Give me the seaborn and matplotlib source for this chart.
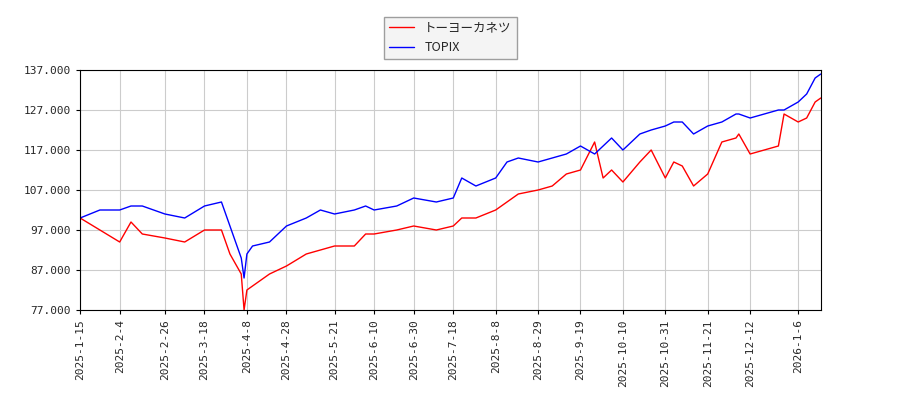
import numpy as np
import pandas as pd
import matplotlib
matplotlib.use("Agg")
import matplotlib.pyplot as plt
import seaborn as sns

dates = ["2025-01-15", "2025-01-24", "2025-02-04", "2025-02-10", "2025-02-14", "2025-02-26",
         "2025-03-07", "2025-03-18", "2025-03-26", "2025-03-31", "2025-04-04", "2025-04-07",
         "2025-04-08", "2025-04-10", "2025-04-18", "2025-04-28", "2025-05-07", "2025-05-14",
         "2025-05-21", "2025-05-30", "2025-06-05", "2025-06-10", "2025-06-20", "2025-06-30",
         "2025-07-10", "2025-07-18", "2025-07-23", "2025-07-30", "2025-08-08", "2025-08-14",
         "2025-08-20", "2025-08-29", "2025-09-05", "2025-09-12", "2025-09-19", "2025-09-26",
         "2025-10-01", "2025-10-06", "2025-10-10", "2025-10-20", "2025-10-24", "2025-10-31",
         "2025-11-05", "2025-11-10", "2025-11-14", "2025-11-21", "2025-11-28", "2025-12-05",
         "2025-12-08", "2025-12-12", "2025-12-19", "2025-12-26", "2025-12-30", "2026-01-06",
         "2026-01-09", "2026-01-14", "2026-01-16"]

toyo = [100, 97, 94, 99, 96, 95, 94, 97, 97, 91, 86, 77, 82, 83, 86, 88, 91, 92, 93, 93,
        96, 96, 97, 98, 97, 98, 100, 100, 102, 104, 106, 107, 108, 111, 112, 119, 110, 112,
        109, 114, 117, 110, 114, 113, 108, 111, 119, 120, 121, 116, 117, 118, 126, 124, 125,
        129, 130]
topix = [100, 102, 102, 103, 103, 101, 100, 103, 104, 98, 90, 85, 91, 93, 94, 98, 100, 102,
         101, 102, 103, 102, 103, 105, 104, 105, 110, 108, 110, 114, 115, 114, 115, 116, 118,
         116, 118, 120, 117, 121, 122, 123, 124, 124, 121, 123, 124, 126, 126, 125, 126, 127,
         127, 129, 131, 135, 136]

tick_dates = ["2025-01-15", "2025-02-04", "2025-02-26", "2025-03-18", "2025-04-08", "2025-04-28",
              "2025-05-21", "2025-06-10", "2025-06-30", "2025-07-18", "2025-08-08", "2025-08-29",
              "2025-09-19", "2025-10-10", "2025-10-31", "2025-11-21", "2025-12-12", "2026-01-06"]
tick_labels = ["2025-1-15", "2025-2-4", "2025-2-26", "2025-3-18", "2025-4-8", "2025-4-28",
               "2025-5-21", "2025-6-10", "2025-6-30", "2025-7-18", "2025-8-8", "2025-8-29",
               "2025-9-19", "2025-10-10", "2025-10-31", "2025-11-21", "2025-12-12", "2026-1-6"]

start = "2025-01-15"
df = pd.DataFrame({"day": np.busday_count(start, dates), "トーヨーカネツ": toyo, "TOPIX": topix})
long = df.melt(id_vars="day", var_name="name", value_name="value")

sns.set_style("white")
plt.rcParams['font.family'] = ['Noto Sans CJK JP', 'DejaVu Sans']

fig, ax = plt.subplots(figsize=(9, 4), dpi=100)
fig.subplots_adjust(left=0.089, right=0.912, top=0.825, bottom=0.225)
sns.lineplot(data=long, x="day", y="value", hue="name",
             palette={"トーヨーカネツ": "red", "TOPIX": "blue"}, linewidth=1, ax=ax)

ax.set_xlim(0, np.busday_count(start, "2026-01-16"))
ax.set_ylim(77, 137)
ax.set_yticks(range(77, 138, 10))
ax.set_yticklabels([f"{v}.000" for v in range(77, 138, 10)], fontsize=8, family="DejaVu Sans Mono")
ax.set_xticks(np.busday_count(start, tick_dates))
ax.set_xticklabels(tick_labels, rotation=90, fontsize=8, family="DejaVu Sans Mono")
ax.grid(True, color="#cccccc", linewidth=0.8)
ax.set_xlabel("")
ax.set_ylabel("")
for s in ax.spines.values():
    s.set_color("black")
    s.set_linewidth(0.8)
ax.tick_params(length=3, color="black", left=True, bottom=True)
leg = ax.legend(loc="lower center", bbox_to_anchor=(0.5, 1.02), fontsize=9,
                frameon=True, edgecolor="#888888", fancybox=False, title=None,
                prop={"family": ["Noto Sans CJK JP", "DejaVu Sans Mono"], "size": 9})
leg.get_frame().set_facecolor("#f2f2f2")

fig.savefig("out.png")
